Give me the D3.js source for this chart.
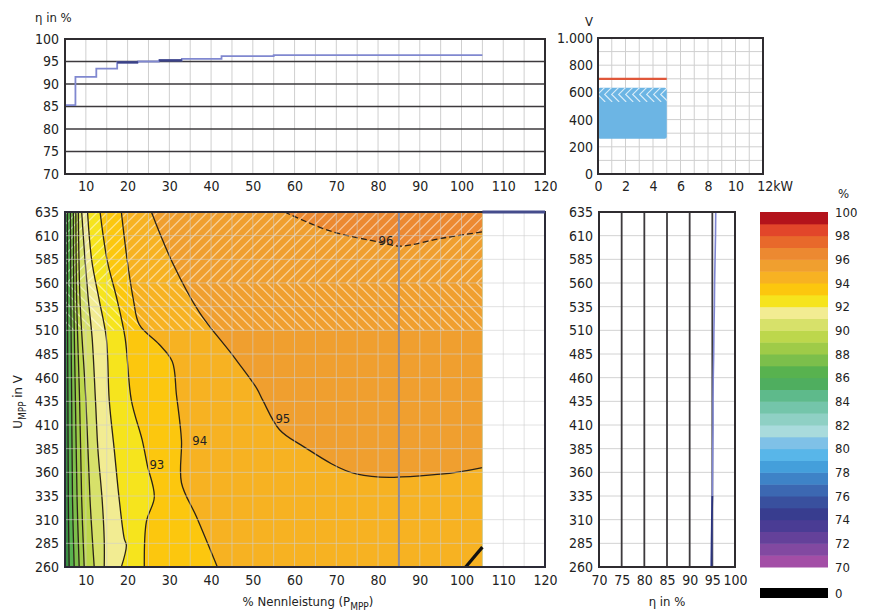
<!DOCTYPE html>
<html>
<head>
<meta charset="utf-8">
<title>Wirkungsgradkennfeld</title>
<script src="https://cdn.jsdelivr.net/npm/d3@7"></script>
<style>
  body { margin: 0; background: #fff; }
  svg text { font-family: "Liberation Sans Narrow", "DejaVu Sans Condensed", "Arial Narrow", sans-serif; font-size: 14px; fill: #222; }
</style>
</head>
<body>
<svg id="chart" width="869" height="614"></svg>
<script>
// ---- data ----
// top left: efficiency over load (step curve)
const stepLoad = [5, 7.5, 12.5, 17.5, 22.5, 27.5, 33, 42.5, 55, 105];
const stepEta = [85.3, 91.6, 93.4, 94.8, 95.0, 95.25, 95.6, 96.2, 96.4, 96.4];
const stepDark = [[17.5, 22.5, 94.8], [27.5, 33, 95.25]];

// top right: MPP window (kW, V)
const mppPower = [0, 5];
const mppVolt = [260, 635];
const mppHatch = [530, 585, 635];
const maxVolt = 700;

// main map: contour lines [load %, U_MPP V]
const levels = [86, 87, 88, 89, 90, 91, 92, 93, 94, 95, 96];
const contours = [
  [[5.6, 635], [5.6, 542], [5.7, 436], [5.8, 331], [6.0, 260]],
  [[6.3, 635], [6.4, 542], [6.6, 436], [6.8, 331], [7.2, 260]],
  [[7.0, 635], [7.1, 542], [7.5, 436], [7.9, 331], [8.4, 260]],
  [[7.6, 635], [7.8, 542], [8.5, 436], [9.0, 331], [9.6, 260]],
  [[8.2, 635], [8.6, 542], [10.0, 436], [11.0, 331], [12.0, 260]],
  [[9.0, 635], [9.8, 584], [10.6, 542], [11.5, 502], [12.3, 436], [12.9, 383], [13.9, 331], [14.4, 288], [14.4, 260]],
  [[10.4, 635], [11.4, 584], [13.2, 542], [14.9, 502], [15.6, 436], [16.8, 384], [18.0, 331], [19.2, 290], [19.7, 283], [18.5, 260]],
  [[13.4, 635], [15.1, 584], [17.5, 542], [19.4, 502], [20.9, 436], [23.5, 394], [24.7, 368], [26.4, 334], [24.5, 308], [24.0, 260]],
  [[18.5, 635], [19.9, 584], [21.4, 542], [22.8, 516], [27.6, 495], [30.7, 477], [31.7, 442], [32.9, 394], [32.9, 349], [36.5, 313], [41.5, 260]],
  [[25.7, 635], [30.7, 582], [37.2, 529], [45.1, 484], [50.9, 449], [52.4, 436], [56.4, 405], [61.5, 389], [75, 358], [95, 358], [105, 365]],
  [[57.6, 635], [68.5, 615], [80.5, 603], [85.3, 599], [94.9, 607], [105, 614]]
];
const labelLevels = [93, 94, 95, 96];
const labelLoad = [27.0, 37.3, 57.2, 81.9];
const labelVolt = [368, 394, 417, 605];
const heatLoad = [5, 105];
const heatVolt = [260, 635];
const hatchVolt = [510, 560, 635];
const nominalLoad = 85;
const zeroEdge = [[101, 260], [105, 281]];

// right: efficiency over U_MPP at nominal load
const rightVolt = [260, 285, 310, 335, 360, 385, 410, 435, 460, 485, 510, 535, 560, 585, 610, 635];
const rightEta = [94.8, 94.85, 94.9, 95.0, 95.05, 95.1, 95.15, 95.15, 95.2, 95.3, 95.35, 95.45, 95.5, 95.6, 95.7, 95.75];

// colour key, one colour per 1 % band from 70 to 100
const bandColors = [
  "#a34ea6", "#8249a1", "#64419a", "#4a3c94", "#383d8f", "#39509e", "#3c68b2", "#3e83c7",
  "#449fdb", "#58b6e9", "#7fc1e7", "#a9dbdc", "#8fd0c4", "#74c5aa", "#5eba8b", "#4fae5f",
  "#58b24f", "#7cbf4b", "#9fcb48", "#bdd74c", "#d7e16a", "#f2ec92", "#f6e41d", "#fcc70e",
  "#f7b222", "#f09f2f", "#ec8931", "#e8692b", "#e2462a", "#b3131b"
];
const legendTicks = d3.range(70, 101, 2);

// tick values
const loadTicks = d3.range(10, 121, 10);
const etaTicks = d3.range(70, 101, 5);
const voltTicks = d3.range(260, 636, 25);
const kwTicks = [0, 2, 4, 6, 8, 10, 12];
const vTicks = [0, 200, 400, 600, 800, 1000];
const etaRightTicks = [70, 75, 80, 85, 90, 95, 100];

// ---- scales ----
const svg = d3.select("#chart");
const de = d3.formatLocale({ decimal: ",", thousands: ".", grouping: [3], currency: ["", " €"] });

const xLoad = d3.scaleLinear().domain([5, 120]).range([65, 545]);
const yEta = d3.scaleLinear().domain([70, 100]).range([174, 39]);
const xKw = d3.scaleLinear().domain([0, 12]).range([598, 763]);
const yV = d3.scaleLinear().domain([0, 1000]).range([174, 38]);
const yMpp = d3.scaleLinear().domain([260, 635]).range([567, 212]);
const xEta = d3.scaleLinear().domain([70, 100]).range([599, 735]);
const yLeg = d3.scaleLinear().domain([70, 100]).range([567, 212]);

function bandColor(v) { return bandColors[v - 70]; }

function chevrons(g, x0, x1, yTop, yTip, yBot, step, width, opacity) {
  const h = yBot - yTop;
  g.selectAll(null)
    .data(d3.range(x0 - h, x1 + step, step))
    .join("path")
      .attr("d", function(x) {
        return "M" + (x + (yTip - yTop)) + "," + yTop + "L" + x + "," + yTip + "L" + (x + (yBot - yTip)) + "," + yBot;
      })
      .attr("fill", "none")
      .attr("stroke", "#fff")
      .attr("stroke-width", width)
      .attr("stroke-opacity", opacity);
}

function clipRect(id, x, y, w, h) {
  svg.append("clipPath").attr("id", id)
    .append("rect").attr("x", x).attr("y", y).attr("width", w).attr("height", h);
}

function cleanAxis(g) {
  g.select(".domain").remove();
  g.selectAll(".tick line").remove();
}

// ---- top left: eta over load ----
const tl = svg.append("g");
tl.selectAll(null).data(d3.range(5, 121, 5)).join("line")
  .attr("x1", xLoad).attr("x2", xLoad)
  .attr("y1", yEta(100)).attr("y2", yEta(70))
  .attr("stroke", "#cfcfcf");
tl.selectAll(null).data([75, 80, 85, 90, 95]).join("line")
  .attr("x1", xLoad(5)).attr("x2", xLoad(120))
  .attr("y1", yEta).attr("y2", yEta)
  .attr("stroke", "#3d3a3d").attr("stroke-width", 1.6);

const stepLine = d3.line()
  .x(function(d, i) { return xLoad(stepLoad[i]); })
  .y(function(d) { return yEta(d); })
  .curve(d3.curveStepAfter);
tl.append("path")
  .attr("d", stepLine(stepEta))
  .attr("fill", "none").attr("stroke", "#8088d0").attr("stroke-width", 1.8);
tl.selectAll(null).data(stepDark).join("line")
  .attr("x1", function(d) { return xLoad(d[0]); })
  .attr("x2", function(d) { return xLoad(d[1]); })
  .attr("y1", function(d) { return yEta(d[2]); })
  .attr("y2", function(d) { return yEta(d[2]); })
  .attr("stroke", "#3b4288").attr("stroke-width", 2.4);

tl.append("rect")
  .attr("x", xLoad(5)).attr("y", yEta(100))
  .attr("width", xLoad(120) - xLoad(5)).attr("height", yEta(70) - yEta(100))
  .attr("fill", "none").attr("stroke", "#2f2c30").attr("stroke-width", 2);

tl.append("g").attr("transform", "translate(0," + yEta(70) + ")")
  .call(d3.axisBottom(xLoad).tickValues(loadTicks).tickSize(0).tickPadding(7))
  .call(cleanAxis);
tl.append("g").attr("transform", "translate(" + xLoad(5) + ",0)")
  .call(d3.axisLeft(yEta).tickValues(etaTicks).tickSize(0).tickPadding(6))
  .call(cleanAxis);
tl.append("text").attr("x", 35).attr("y", 22).style("font-size", "13px").text("η in %");

// ---- top right: MPP window ----
const tr = svg.append("g");
tr.selectAll(null).data(d3.range(1, 12)).join("line")
  .attr("x1", xKw).attr("x2", xKw)
  .attr("y1", yV(1000)).attr("y2", yV(0))
  .attr("stroke", "#cfcfcf");
tr.selectAll(null).data(d3.range(100, 1000, 100)).join("line")
  .attr("x1", xKw(0)).attr("x2", xKw(12))
  .attr("y1", yV).attr("y2", yV)
  .attr("stroke", "#cfcfcf");
tr.append("rect")
  .attr("x", xKw(mppPower[0])).attr("y", yV(mppVolt[1]))
  .attr("width", xKw(mppPower[1]) - xKw(mppPower[0]))
  .attr("height", yV(mppVolt[0]) - yV(mppVolt[1]))
  .attr("rx", 2)
  .attr("fill", "#6cb5e4");
clipRect("clipMpp", xKw(mppPower[0]), yV(mppHatch[2]), xKw(mppPower[1]) - xKw(mppPower[0]), yV(mppHatch[0]) - yV(mppHatch[2]));
chevrons(tr.append("g").attr("clip-path", "url(#clipMpp)"),
  xKw(mppPower[0]), xKw(mppPower[1]), yV(mppHatch[2]), yV(mppHatch[1]), yV(mppHatch[0]), 7, 1.2, 0.75);
tr.append("line")
  .attr("x1", xKw(mppPower[0])).attr("x2", xKw(mppPower[1]))
  .attr("y1", yV(maxVolt)).attr("y2", yV(maxVolt))
  .attr("stroke", "#e0573a").attr("stroke-width", 2.2);
tr.append("rect")
  .attr("x", xKw(0)).attr("y", yV(1000))
  .attr("width", xKw(12) - xKw(0)).attr("height", yV(0) - yV(1000))
  .attr("fill", "none").attr("stroke", "#2f2c30").attr("stroke-width", 2);
const kwAxis = tr.append("g").attr("transform", "translate(0," + yV(0) + ")")
  .call(d3.axisBottom(xKw).tickValues(kwTicks).tickSize(0).tickPadding(7))
  .call(cleanAxis);
kwAxis.selectAll(".tick text").filter(function(d) { return d === 12; })
  .attr("text-anchor", "start").attr("dx", "-0.45em").text("12kW");
tr.append("g").attr("transform", "translate(" + xKw(0) + ",0)")
  .call(d3.axisLeft(yV).tickValues(vTicks).tickSize(0).tickPadding(5).tickFormat(de.format(",")))
  .call(cleanAxis);
tr.append("text").attr("x", 589).attr("y", 26).attr("text-anchor", "middle").style("font-size", "13px").text("V");

// ---- main map ----
const mm = svg.append("g");
const hx0 = xLoad(heatLoad[0]), hx1 = xLoad(heatLoad[1]);
const hy0 = yMpp(heatVolt[1]), hy1 = yMpp(heatVolt[0]);
clipRect("clipHeat", hx0, hy0, hx1 - hx0, hy1 - hy0);
const heat = mm.append("g").attr("clip-path", "url(#clipHeat)");

heat.append("rect")
  .attr("x", hx0).attr("y", hy0).attr("width", hx1 - hx0).attr("height", hy1 - hy0)
  .attr("fill", "#3a8f44");

const contourLine = d3.line()
  .x(function(d) { return xLoad(d[0]); })
  .y(function(d) { return yMpp(d[1]); })
  .curve(d3.curveCatmullRom.alpha(0.5));

function regionPath(pts) {
  const corners = [];
  if (pts[pts.length - 1][1] === heatVolt[0]) corners.push([heatLoad[1], heatVolt[0]]);
  corners.push([heatLoad[1], heatVolt[1]]);
  return contourLine(pts) + corners.map(function(c) {
    return "L" + xLoad(c[0]) + "," + yMpp(c[1]);
  }).join("") + "Z";
}

heat.selectAll(".band").data(contours).join("path")
  .attr("class", "band")
  .attr("d", regionPath)
  .attr("fill", function(d, i) { return bandColor(levels[i]); });

// hatch for the upper voltage range
chevrons(heat.append("g"), hx0, hx1, yMpp(hatchVolt[2]), yMpp(hatchVolt[1]), yMpp(hatchVolt[0]), 10, 1.3, 0.5);

heat.selectAll(".cline").data(contours).join("path")
  .attr("class", "cline")
  .attr("d", contourLine)
  .attr("fill", "none")
  .attr("stroke", "#2a2218")
  .attr("stroke-width", 1.3)
  .attr("stroke-dasharray", function(d, i) { return levels[i] === 96 ? "6,3" : null; });

// grid over the map
mm.selectAll(null).data(d3.range(10, 120, 5)).join("line")
  .attr("x1", xLoad).attr("x2", xLoad)
  .attr("y1", yMpp(635)).attr("y2", yMpp(260))
  .attr("stroke", "#cfcfcf").attr("stroke-opacity", 0.6);
mm.selectAll(null).data(voltTicks.slice(1, -1)).join("line")
  .attr("x1", xLoad(5)).attr("x2", xLoad(120))
  .attr("y1", yMpp).attr("y2", yMpp)
  .attr("stroke", "#cfcfcf").attr("stroke-opacity", 0.6);

mm.append("line")
  .attr("x1", xLoad(nominalLoad)).attr("x2", xLoad(nominalLoad))
  .attr("y1", yMpp(635)).attr("y2", yMpp(260))
  .attr("stroke", "#8c8a9c").attr("stroke-width", 2);

mm.append("path")
  .attr("d", d3.line().x(function(d) { return xLoad(d[0]); }).y(function(d) { return yMpp(d[1]); })(zeroEdge))
  .attr("stroke", "#111").attr("stroke-width", 3.2);

mm.selectAll(null).data(labelLevels).join("text")
  .attr("x", function(d, i) { return xLoad(labelLoad[i]); })
  .attr("y", function(d, i) { return yMpp(labelVolt[i]); })
  .attr("dy", "0.35em")
  .attr("text-anchor", "middle")
  .style("font-size", "13px")
  .text(function(d) { return d; });

mm.append("rect")
  .attr("x", xLoad(5)).attr("y", yMpp(635))
  .attr("width", xLoad(120) - xLoad(5)).attr("height", yMpp(260) - yMpp(635))
  .attr("fill", "none").attr("stroke", "#2b2a36").attr("stroke-width", 2);
mm.append("line")
  .attr("x1", xLoad(heatLoad[1])).attr("x2", xLoad(120))
  .attr("y1", yMpp(635)).attr("y2", yMpp(635))
  .attr("stroke", "#454c8c").attr("stroke-width", 3);

mm.append("g").attr("transform", "translate(0," + yMpp(260) + ")")
  .call(d3.axisBottom(xLoad).tickValues(loadTicks).tickSize(0).tickPadding(8))
  .call(cleanAxis);
mm.append("g").attr("transform", "translate(" + xLoad(5) + ",0)")
  .call(d3.axisLeft(yMpp).tickValues(voltTicks).tickSize(0).tickPadding(6))
  .call(cleanAxis);

const yTitle = mm.append("text")
  .attr("transform", "translate(22,402) rotate(-90)")
  .attr("text-anchor", "middle")
  .style("font-size", "13px");
yTitle.append("tspan").text("U");
yTitle.append("tspan").attr("dy", 4).style("font-size", "10px").text("MPP");
yTitle.append("tspan").attr("dy", -4).text(" in V");

const xTitle = mm.append("text")
  .attr("x", 308).attr("y", 606)
  .attr("text-anchor", "middle")
  .style("font-size", "13px");
xTitle.append("tspan").text("% Nennleistung (P");
xTitle.append("tspan").attr("dy", 4).style("font-size", "10px").text("MPP");
xTitle.append("tspan").attr("dy", -4).text(")");

// ---- right: eta over U_MPP ----
const rp = svg.append("g");
rp.selectAll(null).data(voltTicks.slice(1, -1)).join("line")
  .attr("x1", xEta(70)).attr("x2", xEta(100))
  .attr("y1", yMpp).attr("y2", yMpp)
  .attr("stroke", "#d2d2d2");
rp.selectAll(null).data([75, 80, 85, 90, 95]).join("line")
  .attr("x1", xEta).attr("x2", xEta)
  .attr("y1", yMpp(635)).attr("y2", yMpp(260))
  .attr("stroke", "#3d3a3d").attr("stroke-width", 1.8);
const rightLine = d3.line()
  .x(function(d, i) { return xEta(d); })
  .y(function(d, i) { return yMpp(rightVolt[i]); });
rp.append("path")
  .attr("d", rightLine(rightEta))
  .attr("fill", "none").attr("stroke", "#7f86d2").attr("stroke-width", 1.6);
rp.append("path")
  .attr("d", rightLine(rightEta.slice(0, 4)))
  .attr("fill", "none").attr("stroke", "#2c347c").attr("stroke-width", 1.8);
rp.append("rect")
  .attr("x", xEta(70)).attr("y", yMpp(635))
  .attr("width", xEta(100) - xEta(70)).attr("height", yMpp(260) - yMpp(635))
  .attr("fill", "none").attr("stroke", "#2f2c30").attr("stroke-width", 2);
rp.append("g").attr("transform", "translate(0," + yMpp(260) + ")")
  .call(d3.axisBottom(xEta).tickValues(etaRightTicks).tickSize(0).tickPadding(8))
  .call(cleanAxis);
rp.append("g").attr("transform", "translate(" + xEta(70) + ",0)")
  .call(d3.axisLeft(yMpp).tickValues(voltTicks).tickSize(0).tickPadding(6))
  .call(cleanAxis);
rp.append("text").attr("x", 667).attr("y", 606).attr("text-anchor", "middle")
  .style("font-size", "13px").text("η in %");

// ---- colour key ----
const key = svg.append("g");
key.selectAll(null).data(bandColors).join("rect")
  .attr("x", 760).attr("width", 68)
  .attr("y", function(d, i) { return yLeg(71 + i); })
  .attr("height", function(d, i) { return yLeg(70 + i) - yLeg(71 + i) + 0.5; })
  .attr("fill", function(d) { return d; });
key.append("rect").attr("x", 760).attr("y", 588).attr("width", 68).attr("height", 10).attr("fill", "#000");
key.selectAll(null).data(legendTicks).join("text")
  .attr("x", 835)
  .attr("y", function(d) { return yLeg(d); })
  .attr("dy", "0.35em")
  .style("font-size", "13px")
  .text(function(d) { return d; });
key.append("text").attr("x", 835).attr("y", 593).attr("dy", "0.35em").style("font-size", "13px").text("0");
key.append("text").attr("x", 838).attr("y", 198).style("font-size", "13px").text("%");
</script>
</body>
</html>
